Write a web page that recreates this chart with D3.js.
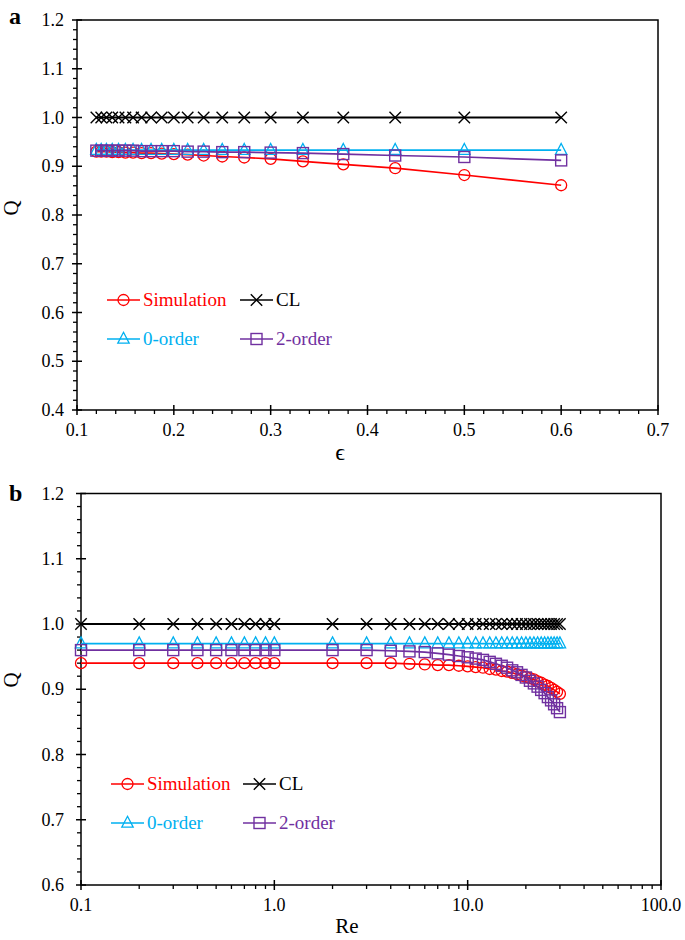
<!DOCTYPE html>
<html><head><meta charset="utf-8">
<script src="https://cdn.jsdelivr.net/npm/d3@7"></script>
<style>body{margin:0;background:#fff}svg{display:block}text{font-family:"Liberation Serif","Times New Roman",Times,serif}</style>
</head><body>
<svg id="c" width="685" height="940" font-family="Liberation Serif, Times New Roman, serif"></svg>
<script>
// ---------- Panel a data ----------
const epsA = [0.12,0.125,0.1304,0.1364,0.1429,0.15,0.1579,0.1667,0.1765,0.1875,0.2,0.2143,0.2308,0.25,0.2727,0.3,0.3333,0.375,0.4286,0.5,0.6];
const simA = [0.930,0.930,0.930,0.929,0.929,0.928,0.928,0.927,0.927,0.926,0.925,0.924,0.922,0.920,0.918,0.915,0.910,0.904,0.896,0.882,0.861];
const clA  = [1,1,1,1,1,1,1,1,1,1,1,1,1,1,1,1,1,1,1,1,1];
const zeroA= [0.933,0.933,0.933,0.933,0.933,0.933,0.933,0.933,0.933,0.933,0.933,0.933,0.933,0.933,0.933,0.933,0.933,0.933,0.933,0.933,0.933];
const twoA = [0.932,0.932,0.932,0.932,0.932,0.932,0.932,0.931,0.931,0.931,0.931,0.930,0.930,0.929,0.929,0.928,0.927,0.925,0.922,0.919,0.912];
const xTicksA = [0.1,0.2,0.3,0.4,0.5,0.6,0.7];
const yTicksA = [0.4,0.5,0.6,0.7,0.8,0.9,1.0,1.1,1.2];

// ---------- Panel b data ----------
const reB = [0.1,0.2,0.3,0.4,0.5,0.6,0.7,0.8,0.9,1,2,3,4,5,6,7,8,9,10,11,12,13,14,15,16,17,18,19,20,21,22,23,24,25,26,27,28,29,30];
const simB = [0.940,0.940,0.940,0.940,0.940,0.940,0.940,0.940,0.940,0.940,0.940,0.940,0.940,0.939,0.938,0.937,0.937,0.936,0.935,0.934,0.933,0.931,0.930,0.928,0.927,0.925,0.923,0.921,0.919,0.917,0.915,0.912,0.910,0.907,0.905,0.902,0.899,0.896,0.893];
const clB  = reB.map(()=>1.0);
const zeroB= reB.map(()=>0.970);
const twoB = [0.960,0.960,0.960,0.960,0.960,0.960,0.960,0.960,0.960,0.960,0.960,0.960,0.959,0.958,0.957,0.955,0.953,0.951,0.949,0.947,0.945,0.942,0.939,0.936,0.933,0.929,0.926,0.922,0.918,0.913,0.909,0.904,0.899,0.894,0.888,0.883,0.877,0.871,0.865];
const xTicksB = [0.1,1,10,100];
const yTicksB = [0.6,0.7,0.8,0.9,1.0,1.1,1.2];

const seriesNames = ["Simulation","CL","0-order","2-order"];
const colors = ["#ff0000","#000000","#00b0f0","#7030a0"];
const shapes = ["circle","x","triangle","square"];

const svg = d3.select("#c");

function marker(g, shape, color, x, y){
  if(shape==="circle"){
    g.append("circle").attr("cx",x).attr("cy",y).attr("r",5.5).attr("fill","none").attr("stroke",color).attr("stroke-width",1.3);
  } else if(shape==="x"){
    const s=5.7;
    g.append("path").attr("d",`M${x-s},${y-s}L${x+s},${y+s}M${x-s},${y+s}L${x+s},${y-s}`).attr("stroke",color).attr("stroke-width",1.4).attr("fill","none");
  } else if(shape==="triangle"){
    const s=5.7;
    g.append("path").attr("d",`M${x},${y-s-1}L${x+s},${y+s-1.5}L${x-s},${y+s-1.5}Z`).attr("stroke",color).attr("stroke-width",1.3).attr("fill","none");
  } else {
    const s=5.5;
    g.append("rect").attr("x",x-s).attr("y",y-s).attr("width",2*s).attr("height",2*s).attr("stroke",color).attr("stroke-width",1.4).attr("fill","none");
  }
}

function panel(opt){
  const {x,y,xs,data,xTicks,yTicks,xMinor,yMinor,xFmt,label,lx,ly,xTitle,xTitleX,xTitleY,xTitleSize,qY,legend} = opt;
  const g = svg.append("g");
  const [x0,x1]=x.range(), [y0,y1]=y.range();
  g.append("rect").attr("x",x0).attr("y",y1).attr("width",x1-x0).attr("height",y0-y1).attr("fill","none").attr("stroke","#000").attr("stroke-width",1.5);
  yMinor.forEach(v=>g.append("line").attr("x1",x0-4).attr("x2",x0).attr("y1",y(v)).attr("y2",y(v)).attr("stroke","#000").attr("stroke-width",1.3));
  yTicks.forEach(v=>{
    g.append("line").attr("x1",x0-5).attr("x2",x0+5).attr("y1",y(v)).attr("y2",y(v)).attr("stroke","#000").attr("stroke-width",1.5);
    g.append("text").attr("x",opt.yLabX).attr("y",y(v)+6).attr("text-anchor","end").attr("font-size",18).text(v.toFixed(1));
  });
  xMinor.forEach(v=>g.append("line").attr("x1",x(v)).attr("x2",x(v)).attr("y1",y0).attr("y2",y0+4).attr("stroke","#000").attr("stroke-width",1.3));
  xTicks.forEach(v=>{
    g.append("line").attr("x1",x(v)).attr("x2",x(v)).attr("y1",y0-5).attr("y2",y0+5).attr("stroke","#000").attr("stroke-width",1.5);
    g.append("text").attr("x",x(v)).attr("y",y0+26).attr("text-anchor","middle").attr("font-size",18).text(xFmt(v));
  });
  g.append("text").attr("x",xTitleX).attr("y",xTitleY).attr("text-anchor","middle").attr("font-size",xTitleSize).text(xTitle);
  g.append("text").attr("transform",`translate(18,${qY}) rotate(-90)`).attr("text-anchor","middle").attr("font-size",21).text("Q");
  g.append("text").attr("x",lx).attr("y",ly).attr("font-size",24).attr("font-weight","bold").text(label);
  data.forEach((vals,i)=>{
    const line = d3.line().x(d=>x(d[0])).y(d=>y(d[1]));
    const pts = xs.map((xv,j)=>[xv,vals[j]]);
    g.append("path").attr("d",line(pts)).attr("fill","none").attr("stroke",colors[i]).attr("stroke-width",i===1?2:1.7);
    pts.forEach(p=>marker(g,shapes[i],colors[i],x(p[0]),y(p[1])));
  });
  legend.forEach((L,i)=>{
    g.append("line").attr("x1",L[0]).attr("x2",L[0]+33).attr("y1",L[1]).attr("y2",L[1]).attr("stroke",colors[i]).attr("stroke-width",1.7);
    marker(g,shapes[i],colors[i],L[0]+16.5,L[1]);
    g.append("text").attr("x",L[0]+36).attr("y",L[1]+6).attr("font-size",19).attr("fill",colors[i]).text(seriesNames[i]);
  });
}

const xA = d3.scaleLinear().domain([0.1,0.7]).range([77,658]);
const yA = d3.scaleLinear().domain([0.4,1.2]).range([410,20]);
const minorA = d3.range(0.4,1.2001,0.02).filter(v=>Math.abs(Math.round(v*10)-v*10)>1e-6);
const minorXA = d3.range(0.1,0.7001,0.02).filter(v=>Math.abs(Math.round(v*10)-v*10)>1e-6);
panel({x:xA,y:yA,xs:epsA,data:[simA,clA,zeroA,twoA],xTicks:xTicksA,yTicks:yTicksA,
  xMinor:minorXA,yMinor:minorA,xFmt:v=>v.toFixed(1),label:"a",lx:9,ly:24,
  xTitle:"\u03F5",xTitleX:340,xTitleY:460,xTitleSize:24,qY:208,yLabX:64,
  legend:[[107,300],[240,300],[107,339],[240,339]]});

const xB = d3.scaleLog().domain([0.1,100]).range([81,661]);
const yB = d3.scaleLinear().domain([0.6,1.2]).range([885,493.5]);
const minorB = d3.range(0.6,1.2001,0.02).filter(v=>Math.abs(Math.round(v*10)-v*10)>1e-6);
const minorXB = [];
[0.1,1,10].forEach(d=>{for(let k=2;k<=9;k++) minorXB.push(d*k);});
panel({x:xB,y:yB,xs:reB,data:[simB,clB,zeroB,twoB],xTicks:xTicksB,yTicks:yTicksB,
  xMinor:minorXB,yMinor:minorB,xFmt:v=>v.toFixed(1),label:"b",lx:9,ly:501,
  xTitle:"Re",xTitleX:347,xTitleY:933,xTitleSize:21,qY:680,yLabX:64,
  legend:[[111,784],[243,784],[111,823],[243,823]]});
</script>
</body></html>
